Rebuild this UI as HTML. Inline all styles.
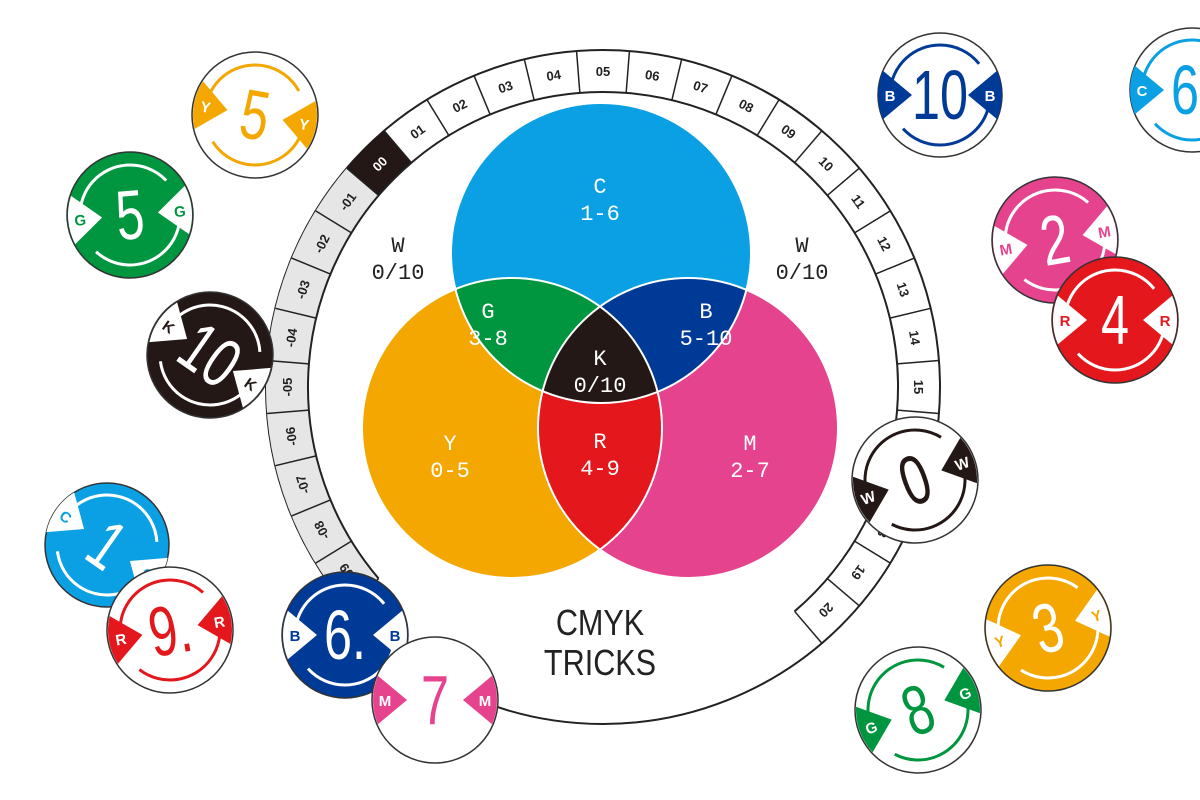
<!DOCTYPE html>
<html><head><meta charset="utf-8"><style>
html,body{margin:0;padding:0;background:#fff;width:1200px;height:800px;overflow:hidden}
svg{display:block}
.rl{font-family:"Liberation Sans",sans-serif;font-size:13px;font-weight:bold;text-anchor:middle;fill:#222}
.vl{font-family:"Liberation Mono",monospace;font-size:22px;text-anchor:middle;fill:#fff}
.num{font-family:"Liberation Sans Narrow","Liberation Sans",sans-serif;font-size:70px;text-anchor:middle}
.tl{font-family:"Liberation Sans",sans-serif;font-size:15px;font-weight:bold;text-anchor:middle}
</style></head><body>
<svg width="1200" height="800" viewBox="0 0 1200 800" xmlns="http://www.w3.org/2000/svg">
<defs>
<clipPath id="cC"><circle cx="601" cy="253" r="150"/></clipPath>
<clipPath id="cY"><circle cx="512" cy="428" r="150"/></clipPath>
<clipPath id="cM"><circle cx="688" cy="428" r="150"/></clipPath>
<clipPath id="chip"><circle cx="0" cy="0" r="62"/></clipPath>
</defs>
<!-- dial -->
<circle cx="603" cy="387" r="337" fill="#fff" stroke="#222" stroke-width="2"/>
<circle cx="603" cy="387" r="316" fill="none" stroke="#e6e6e6" stroke-width="42" stroke-dasharray="446.8 3000" transform="rotate(139.5 603 387)"/>
<circle cx="603" cy="387" r="316" fill="none" stroke="#231815" stroke-width="42" stroke-dasharray="49.6 3000" transform="rotate(-139.5 603 387)"/>
<circle cx="603" cy="387" r="295" fill="none" stroke="#222" stroke-width="2" stroke-dasharray="1390 3000" transform="rotate(139.5 603 387)"/>
<g stroke="#222" stroke-width="1.5">
<line x1="603" y1="50" x2="603" y2="92" transform="rotate(-130.5 603 387)"/><line x1="603" y1="50" x2="603" y2="92" transform="rotate(-121.5 603 387)"/><line x1="603" y1="50" x2="603" y2="92" transform="rotate(-112.5 603 387)"/><line x1="603" y1="50" x2="603" y2="92" transform="rotate(-103.5 603 387)"/><line x1="603" y1="50" x2="603" y2="92" transform="rotate(-94.5 603 387)"/><line x1="603" y1="50" x2="603" y2="92" transform="rotate(-85.5 603 387)"/><line x1="603" y1="50" x2="603" y2="92" transform="rotate(-76.5 603 387)"/><line x1="603" y1="50" x2="603" y2="92" transform="rotate(-67.5 603 387)"/><line x1="603" y1="50" x2="603" y2="92" transform="rotate(-58.5 603 387)"/><line x1="603" y1="50" x2="603" y2="92" transform="rotate(-49.5 603 387)"/><line x1="603" y1="50" x2="603" y2="92" transform="rotate(-40.5 603 387)"/><line x1="603" y1="50" x2="603" y2="92" transform="rotate(-31.5 603 387)"/><line x1="603" y1="50" x2="603" y2="92" transform="rotate(-22.5 603 387)"/><line x1="603" y1="50" x2="603" y2="92" transform="rotate(-13.5 603 387)"/><line x1="603" y1="50" x2="603" y2="92" transform="rotate(-4.5 603 387)"/><line x1="603" y1="50" x2="603" y2="92" transform="rotate(4.5 603 387)"/><line x1="603" y1="50" x2="603" y2="92" transform="rotate(13.5 603 387)"/><line x1="603" y1="50" x2="603" y2="92" transform="rotate(22.5 603 387)"/><line x1="603" y1="50" x2="603" y2="92" transform="rotate(31.5 603 387)"/><line x1="603" y1="50" x2="603" y2="92" transform="rotate(40.5 603 387)"/><line x1="603" y1="50" x2="603" y2="92" transform="rotate(49.5 603 387)"/><line x1="603" y1="50" x2="603" y2="92" transform="rotate(58.5 603 387)"/><line x1="603" y1="50" x2="603" y2="92" transform="rotate(67.5 603 387)"/><line x1="603" y1="50" x2="603" y2="92" transform="rotate(76.5 603 387)"/><line x1="603" y1="50" x2="603" y2="92" transform="rotate(85.5 603 387)"/><line x1="603" y1="50" x2="603" y2="92" transform="rotate(94.5 603 387)"/><line x1="603" y1="50" x2="603" y2="92" transform="rotate(103.5 603 387)"/><line x1="603" y1="50" x2="603" y2="92" transform="rotate(112.5 603 387)"/><line x1="603" y1="50" x2="603" y2="92" transform="rotate(121.5 603 387)"/><line x1="603" y1="50" x2="603" y2="92" transform="rotate(130.5 603 387)"/><line x1="603" y1="50" x2="603" y2="92" transform="rotate(139.5 603 387)"/>
</g>
<g class="rl">
<text x="603" y="76" transform="rotate(-126 603 387)">-09</text>
<text x="603" y="76" transform="rotate(-117 603 387)">-08</text>
<text x="603" y="76" transform="rotate(-108 603 387)">-07</text>
<text x="603" y="76" transform="rotate(-99 603 387)">-06</text>
<text x="603" y="76" transform="rotate(-90 603 387)">-05</text>
<text x="603" y="76" transform="rotate(-81 603 387)">-04</text>
<text x="603" y="76" transform="rotate(-72 603 387)">-03</text>
<text x="603" y="76" transform="rotate(-63 603 387)">-02</text>
<text x="603" y="76" transform="rotate(-54 603 387)">-01</text>
<text x="603" y="76" transform="rotate(-45 603 387)" fill="#fff">00</text>
<text x="603" y="76" transform="rotate(-36 603 387)">01</text>
<text x="603" y="76" transform="rotate(-27 603 387)">02</text>
<text x="603" y="76" transform="rotate(-18 603 387)">03</text>
<text x="603" y="76" transform="rotate(-9 603 387)">04</text>
<text x="603" y="76">05</text>
<text x="603" y="76" transform="rotate(9 603 387)">06</text>
<text x="603" y="76" transform="rotate(18 603 387)">07</text>
<text x="603" y="76" transform="rotate(27 603 387)">08</text>
<text x="603" y="76" transform="rotate(36 603 387)">09</text>
<text x="603" y="76" transform="rotate(45 603 387)">10</text>
<text x="603" y="76" transform="rotate(54 603 387)">11</text>
<text x="603" y="76" transform="rotate(63 603 387)">12</text>
<text x="603" y="76" transform="rotate(72 603 387)">13</text>
<text x="603" y="76" transform="rotate(81 603 387)">14</text>
<text x="603" y="76" transform="rotate(90 603 387)">15</text>
<text x="603" y="76" transform="rotate(99 603 387)">16</text>
<text x="603" y="76" transform="rotate(108 603 387)">17</text>
<text x="603" y="76" transform="rotate(117 603 387)">18</text>
<text x="603" y="76" transform="rotate(126 603 387)">19</text>
<text x="603" y="76" transform="rotate(135 603 387)">20</text>
</g>
<!-- venn -->
<circle cx="601" cy="253" r="150" fill="#0aa0e3"/>
<circle cx="512" cy="428" r="150" fill="#f3a700"/>
<circle cx="688" cy="428" r="150" fill="#e6438f"/>
<g clip-path="url(#cC)"><circle cx="512" cy="428" r="150" fill="#00963f"/><circle cx="688" cy="428" r="150" fill="#003a97"/></g>
<g clip-path="url(#cY)"><circle cx="688" cy="428" r="150" fill="#e3171c"/></g>
<g clip-path="url(#cC)"><g clip-path="url(#cY)"><circle cx="688" cy="428" r="150" fill="#231815"/></g></g>
<g fill="none" stroke="#fff" stroke-width="2"><circle cx="601" cy="253" r="150"/><circle cx="512" cy="428" r="150"/><circle cx="688" cy="428" r="150"/></g>
<g class="vl">
<text x="600" y="193">C</text><text x="600" y="220">1-6</text>
<text x="488" y="318">G</text><text x="488" y="345">3-8</text>
<text x="706" y="318">B</text><text x="706" y="345">5-10</text>
<text x="600" y="365">K</text><text x="600" y="392">0/10</text>
<text x="450" y="450">Y</text><text x="450" y="477">0-5</text>
<text x="600" y="448">R</text><text x="600" y="475">4-9</text>
<text x="750" y="450">M</text><text x="750" y="477">2-7</text>
<text x="398" y="252" fill="#222">W</text><text x="398" y="279" fill="#222">0/10</text>
<text x="802" y="252" fill="#222">W</text><text x="802" y="279" fill="#222">0/10</text>
</g>
<text transform="translate(600,635) scale(0.85,1)" font-family="Liberation Sans,sans-serif" font-size="36" text-anchor="middle" fill="#222">CMYK</text>
<text transform="translate(600,675) scale(0.85,1)" font-family="Liberation Sans,sans-serif" font-size="36" text-anchor="middle" fill="#222">TRICKS</text>

<!-- chips -->
<g transform="translate(255,115) rotate(10)"><circle r="63" fill="#fff" stroke="#333" stroke-width="1.5"/><g clip-path="url(#chip)"><polygon points="-64,-30 -28,0 -64,30" fill="#f3a700"/><polygon points="64,-30 28,0 64,30" fill="#f3a700"/></g><circle r="50" fill="none" stroke="#f3a700" stroke-width="3" stroke-dasharray="120 40"/><text class="num" y="24" transform="scale(0.72,1)" fill="#f3a700">5</text><text class="tl" x="-50" y="6" fill="#fff">Y</text><text class="tl" x="50" y="6" fill="#fff">Y</text></g>
<g transform="translate(130,215) rotate(-5)"><circle r="63" fill="#00963f" stroke="#333" stroke-width="1.5"/><g clip-path="url(#chip)"><polygon points="-64,-30 -28,0 -64,30" fill="#fff"/><polygon points="64,-30 28,0 64,30" fill="#fff"/></g><circle r="50" fill="none" stroke="#fff" stroke-width="3" stroke-dasharray="120 40"/><text class="num" y="24" transform="scale(0.72,1)" fill="#fff">5</text><text class="tl" x="-50" y="6" fill="#00963f">G</text><text class="tl" x="50" y="6" fill="#00963f">G</text></g>
<g transform="translate(210,355) rotate(35)"><circle r="63" fill="#231815" stroke="#333" stroke-width="1.5"/><g clip-path="url(#chip)"><polygon points="-64,-30 -28,0 -64,30" fill="#fff"/><polygon points="64,-30 28,0 64,30" fill="#fff"/></g><circle r="50" fill="none" stroke="#fff" stroke-width="3" stroke-dasharray="120 40"/><text class="num" y="24" transform="scale(0.72,1)" fill="#fff">10</text><text class="tl" x="-50" y="6" fill="#231815">K</text><text class="tl" x="50" y="6" fill="#231815">K</text></g>
<g transform="translate(107,545) rotate(35)"><circle r="62" fill="#0aa0e3" stroke="#333" stroke-width="1.5"/><g clip-path="url(#chip)"><polygon points="-64,-30 -28,0 -64,30" fill="#fff"/><polygon points="64,-30 28,0 64,30" fill="#fff"/></g><circle r="50" fill="none" stroke="#fff" stroke-width="3" stroke-dasharray="120 40"/><text class="num" y="24" transform="scale(0.72,1)" fill="#fff">1</text><text class="tl" x="-50" y="6" fill="#0aa0e3">C</text><text class="tl" x="50" y="6" fill="#0aa0e3">C</text></g>
<g transform="translate(170,630) rotate(-10)"><circle r="63" fill="#fff" stroke="#333" stroke-width="1.5"/><g clip-path="url(#chip)"><polygon points="-64,-30 -28,0 -64,30" fill="#e3171c"/><polygon points="64,-30 28,0 64,30" fill="#e3171c"/></g><circle r="50" fill="none" stroke="#e3171c" stroke-width="3" stroke-dasharray="120 40"/><text class="num" y="24" transform="scale(0.72,1)" fill="#e3171c">9.</text><text class="tl" x="-50" y="6" fill="#fff">R</text><text class="tl" x="50" y="6" fill="#fff">R</text></g>
<g transform="translate(345,635)"><circle r="63" fill="#003a97" stroke="#333" stroke-width="1.5"/><g clip-path="url(#chip)"><polygon points="-64,-30 -28,0 -64,30" fill="#fff"/><polygon points="64,-30 28,0 64,30" fill="#fff"/></g><circle r="50" fill="none" stroke="#fff" stroke-width="3" stroke-dasharray="120 40"/><text class="num" y="24" transform="scale(0.72,1)" fill="#fff">6.</text><text class="tl" x="-50" y="6" fill="#003a97">B</text><text class="tl" x="50" y="6" fill="#003a97">B</text></g>
<g transform="translate(435,700)"><circle r="63" fill="#fff" stroke="#333" stroke-width="1.5"/><g clip-path="url(#chip)"><polygon points="-64,-30 -28,0 -64,30" fill="#e6438f"/><polygon points="64,-30 28,0 64,30" fill="#e6438f"/></g><text class="num" y="24" transform="scale(0.72,1)" fill="#e6438f">7</text><text class="tl" x="-50" y="6" fill="#fff">M</text><text class="tl" x="50" y="6" fill="#fff">M</text></g>
<g transform="translate(940,95)"><circle r="62" fill="#fff" stroke="#333" stroke-width="1.5"/><g clip-path="url(#chip)"><polygon points="-64,-30 -28,0 -64,30" fill="#003a97"/><polygon points="64,-30 28,0 64,30" fill="#003a97"/></g><circle r="50" fill="none" stroke="#003a97" stroke-width="3" stroke-dasharray="120 40"/><text class="num" y="24" transform="scale(0.72,1)" fill="#003a97">10</text><text class="tl" x="-50" y="6" fill="#fff">B</text><text class="tl" x="50" y="6" fill="#fff">B</text></g>
<g transform="translate(1192,90)"><circle r="62" fill="#fff" stroke="#333" stroke-width="1.5"/><g clip-path="url(#chip)"><polygon points="-64,-30 -28,0 -64,30" fill="#0aa0e3"/></g><circle r="50" fill="none" stroke="#0aa0e3" stroke-width="3" stroke-dasharray="120 40"/><text class="num" y="24" transform="scale(0.72,1)" fill="#0aa0e3">6.</text><text class="tl" x="-50" y="6" fill="#fff">C</text></g>
<g transform="translate(1055,240) rotate(-10)"><circle r="63" fill="#e6438f" stroke="#333" stroke-width="1.5"/><g clip-path="url(#chip)"><polygon points="-64,-30 -28,0 -64,30" fill="#fff"/><polygon points="64,-30 28,0 64,30" fill="#fff"/></g><circle r="50" fill="none" stroke="#fff" stroke-width="3" stroke-dasharray="120 40"/><text class="num" y="24" transform="scale(0.72,1)" fill="#fff">2</text><text class="tl" x="-50" y="6" fill="#e6438f">M</text><text class="tl" x="50" y="6" fill="#e6438f">M</text></g>
<g transform="translate(1115,320)"><circle r="63" fill="#e3171c" stroke="#333" stroke-width="1.5"/><g clip-path="url(#chip)"><polygon points="-64,-30 -28,0 -64,30" fill="#fff"/><polygon points="64,-30 28,0 64,30" fill="#fff"/></g><circle r="50" fill="none" stroke="#fff" stroke-width="3" stroke-dasharray="120 40"/><text class="num" y="24" transform="scale(0.72,1)" fill="#fff">4</text><text class="tl" x="-50" y="6" fill="#e3171c">R</text><text class="tl" x="50" y="6" fill="#e3171c">R</text></g>
<g transform="translate(915,480) rotate(-20)"><circle r="63" fill="#fff" stroke="#333" stroke-width="1.5"/><g clip-path="url(#chip)"><polygon points="-64,-30 -28,0 -64,30" fill="#231815"/><polygon points="64,-30 28,0 64,30" fill="#231815"/></g><circle r="50" fill="none" stroke="#231815" stroke-width="3" stroke-dasharray="120 40"/><text class="num" y="24" transform="scale(0.72,1)" fill="#231815">0</text><text class="tl" x="-50" y="6" fill="#fff">W</text><text class="tl" x="50" y="6" fill="#fff">W</text></g>
<g transform="translate(1048,628) rotate(-15)"><circle r="63" fill="#f3a700" stroke="#333" stroke-width="1.5"/><g clip-path="url(#chip)"><polygon points="-64,-30 -28,0 -64,30" fill="#fff"/><polygon points="64,-30 28,0 64,30" fill="#fff"/></g><circle r="50" fill="none" stroke="#fff" stroke-width="3" stroke-dasharray="120 40"/><text class="num" y="24" transform="scale(0.72,1)" fill="#fff">3</text><text class="tl" x="-50" y="6" fill="#f3a700">Y</text><text class="tl" x="50" y="6" fill="#f3a700">Y</text></g>
<g transform="translate(918,710) rotate(-20)"><circle r="63" fill="#fff" stroke="#333" stroke-width="1.5"/><g clip-path="url(#chip)"><polygon points="-64,-30 -28,0 -64,30" fill="#00963f"/><polygon points="64,-30 28,0 64,30" fill="#00963f"/></g><circle r="50" fill="none" stroke="#00963f" stroke-width="3" stroke-dasharray="120 40"/><text class="num" y="24" transform="scale(0.72,1)" fill="#00963f">8</text><text class="tl" x="-50" y="6" fill="#fff">G</text><text class="tl" x="50" y="6" fill="#fff">G</text></g>
</svg>
</body></html>
